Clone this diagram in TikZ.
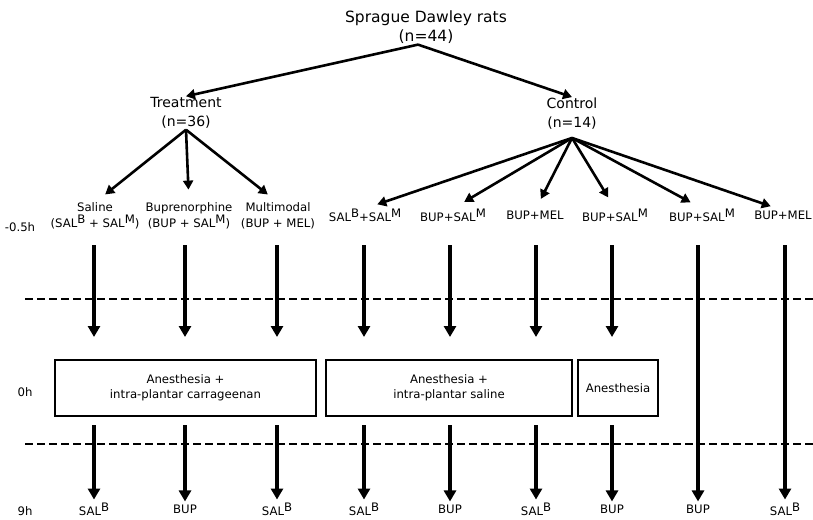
\documentclass[tikz,border=0pt]{standalone}
\usepackage{fontspec}
\setmainfont{DejaVu Sans}
\usepackage{tikz}
\usetikzlibrary{arrows.meta}
\tikzset{>={Triangle[length=9pt,width=10pt]}}
\newcommand{\hsup}[1]{\raisebox{0.6ex}{#1}}

\begin{document}
\begin{tikzpicture}[x=1pt, y=1pt,
    lab/.style={font=\fontsize{11.7}{16}\selectfont, align=center, inner sep=0pt},
    head/.style={font=\fontsize{14}{19}\selectfont, align=center, inner sep=1pt},
    branch/.style={->, line width=2.6pt},
    flow/.style={->, line width=3.8pt, >={Triangle[length=11pt,width=12pt]}},
    phase/.style={draw, lab, line width=1.3pt, minimum height=56pt, font=\fontsize{11.7}{15}\selectfont},
    timeline/.style={line width=1.4pt, dash pattern=on 8pt off 4pt}]
  \useasboundingbox (0,0) rectangle (813,-519);
  \node[head, font=\fontsize{15.5}{19}\selectfont] (rats) at (426,-27) {Sprague Dawley rats\\(n=44)};
  \node[head] (treat) at (186,-113) {Treatment\\(n=36)};
  \node[head] (ctrl) at (572,-114) {Control\\(n=14)};
  \draw[branch] ([xshift=-8pt]rats.south) -- (treat.north);
  \draw[branch] ([xshift=-8pt]rats.south) -- (ctrl.north);
  \node[lab] (pre) at (20,-227) {-0.5h};
  \node[lab] (sal) at (95,-216) {Saline\\(SAL\hsup{B} + SAL\hsup{M})};
  \node[lab] (bup) at (189,-216) {Buprenorphine\\(BUP + SAL\hsup{M})};
  \node[lab] (multi) at (278,-216) {Multimodal\\(BUP + MEL)};
  \foreach \kid in {sal,bup,multi}
    \draw[branch, shorten >=13pt] (treat.south) -- (\kid.north);
  \foreach \x/\txt [count=\i] in {365/SAL\hsup{B}+SAL\hsup{M}, 453/BUP+SAL\hsup{M}, 535/BUP+MEL,
      615/BUP+SAL\hsup{M}, 702/BUP+SAL\hsup{M}, 783/BUP+MEL}
    \node[lab] (k\i) at (\x,-215) {\txt};
  \foreach \i in {1,...,6}
    \draw[branch, shorten >=13pt] ([yshift=-7pt]ctrl.south) -- (k\i.north);
  \draw[timeline] (25,-299) -- (813,-299);
  \draw[timeline] (25,-444) -- (813,-444);
  \node[lab] (zero) at (25,-392) {0h};
  \node[lab] (nine) at (25,-511) {9h};
  \node[phase, minimum width=261pt] (carr) at (185.5,-388) {Anesthesia +\\intra-plantar carrageenan};
  \node[phase, line width=2.2pt, minimum width=246pt] (salbox) at (449,-388) {Anesthesia +\\intra-plantar saline};
  \node[phase, minimum width=80pt] (anes) at (618,-388) {Anesthesia};
  \foreach \x/\txt [count=\i] in {94/SAL\hsup{B}, 185/BUP, 277/SAL\hsup{B}, 364/SAL\hsup{B}, 450/BUP,
      536/SAL\hsup{B}, 612/BUP, 698/BUP, 785/SAL\hsup{B}} {
    \coordinate (a\i) at (\x,-245);
    \coordinate (b\i) at (\x,-337);
    \coordinate (c\i) at (\x,-425);
    \node[lab] (e\i) at (\x,-509) {\txt};
  }
  \foreach \i in {1,...,7} {
    \draw[flow] (a\i) -- (b\i);
    \draw[flow, shorten >=3pt] (c\i) -- (e\i.north);
  }
  \draw[flow, shorten >=3pt] (a8) -- (e8.north);
  \draw[flow, shorten >=3pt] (a9) -- (e9.north);
\end{tikzpicture}
\end{document}
